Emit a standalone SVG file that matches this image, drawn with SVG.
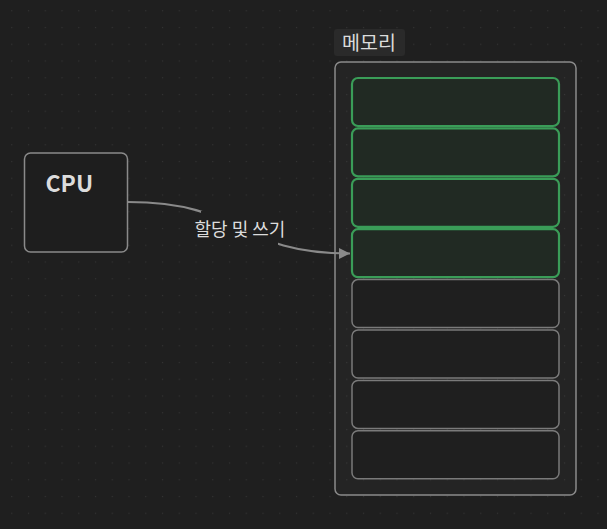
<svg xmlns="http://www.w3.org/2000/svg" width="607" height="529" viewBox="0 0 607 529">
  <defs>
    <pattern id="dots" x="11.2" y="10.2" width="16.75" height="16.75" patternUnits="userSpaceOnUse">
      <rect x="0" y="0" width="1.1" height="1.1" fill="#343434"/>
    </pattern>
    <marker id="arrow" viewBox="0 0 10 10" refX="10" refY="5" markerWidth="11" markerHeight="11" markerUnits="userSpaceOnUse" orient="auto">
      <path d="M0,0 L10,5 L0,10 z" fill="#8a8a8a"/>
    </marker>
    <style>
      .node { fill: #1e1e1e; stroke: #8a8a8a; stroke-width: 1.5; }
      .cell { fill: #1f1f1f; stroke: #7a7a7a; stroke-width: 1.5; }
      .cell.active { fill: #212a23; stroke: #3a9d58; stroke-width: 2.2; }
      .container { fill: rgba(255,255,255,0.025); stroke: #8a8a8a; stroke-width: 1.5; }
      .txt { font-family: "Noto Sans CJK KR", "Noto Sans", sans-serif; fill: #dcdcdc; }
      .edge { fill: none; stroke: #8a8a8a; stroke-width: 2.2; }
    </style>
  </defs>
  <rect width="607" height="529" fill="#1f1f1f"/>
  <rect width="607" height="529" fill="url(#dots)"/>

  <g id="memory">
    <rect class="container" x="335" y="62" width="241" height="433" rx="6"/>
    <rect x="334" y="29" width="71" height="27" rx="3" fill="#2a2a2a"/>
    <text class="txt" x="342" y="50" font-size="19.5">메모리</text>
  </g>

  <g id="cells">
    <g id="cell-1"><rect class="cell active" x="352" y="78" width="207" height="48" rx="6"/></g>
    <g id="cell-2"><rect class="cell active" x="352" y="128.4" width="207" height="48" rx="6"/></g>
    <g id="cell-3"><rect class="cell active" x="352" y="178.8" width="207" height="48" rx="6"/></g>
    <g id="cell-4"><rect class="cell active" x="352" y="229.2" width="207" height="48" rx="6"/></g>
    <g id="cell-5"><rect class="cell" x="352" y="279.6" width="207" height="48" rx="6"/></g>
    <g id="cell-6"><rect class="cell" x="352" y="330" width="207" height="48" rx="6"/></g>
    <g id="cell-7"><rect class="cell" x="352" y="380.4" width="207" height="48" rx="6"/></g>
    <g id="cell-8"><rect class="cell" x="352" y="430.8" width="207" height="48" rx="6"/></g>
  </g>

  <g id="cpu">
    <rect class="node" x="24.5" y="153" width="103" height="99" rx="6"/>
    <text class="txt" x="45.5" y="192" font-size="23" font-weight="bold" fill="#e8e8e8">CPU</text>
  </g>

  <g id="connectors">
    <path class="edge" d="M128,202 C245,202 235,253.5 350,253.5" marker-end="url(#arrow)"/>
    <rect x="201" y="211" width="77" height="34" fill="#1f1f1f"/>
    <text class="txt" x="240" y="235.5" font-size="18" text-anchor="middle">할당 및 쓰기</text>
  </g>
</svg>
